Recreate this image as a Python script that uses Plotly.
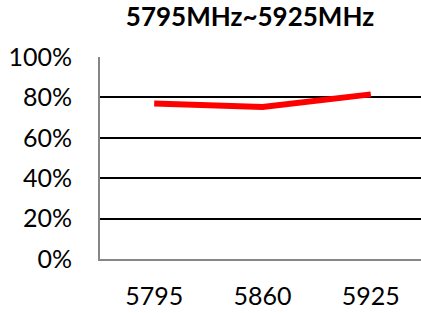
import plotly.graph_objects as go

categories = ["5795", "5860", "5925"]
values = [0.77, 0.752, 0.815]
title_text = "5795MHz~5925MHz"

W, H = 429, 313

fig = go.Figure()
fig.add_trace(go.Scatter(
    x=categories, y=values, mode="lines",
    line=dict(color="#FF0000", width=6),
    showlegend=False, hoverinfo="skip",
))

fig.update_layout(
    width=W, height=H, autosize=False,
    margin=dict(l=100, r=4, t=57, b=54, pad=0, autoexpand=False),
    paper_bgcolor="white", plot_bgcolor="white",
    title=dict(text="<b>" + title_text + "</b>", x=250 / W, xanchor="center",
               y=1 - 17 / H, yanchor="middle",
               font=dict(family="Lato", size=26, color="black")),
    font=dict(family="Lato", size=25, color="black"),
)
fig.update_xaxes(
    type="category", range=[-0.5, 2.5], automargin=False, domain=[0, 1],
    showline=True, linecolor="#868686", linewidth=2,
    showgrid=False, ticks="", ticklabelstandoff=14,
    tickfont=dict(family="Lato", size=25, color="black"),
)
fig.update_yaxes(
    range=[0, 1], dtick=0.2, tickformat=".0%", automargin=False,
    showline=True, linecolor="#868686", linewidth=2,
    showgrid=True, gridcolor="black", gridwidth=2,
    zeroline=False, ticks="", ticklabelstandoff=21,
    tickfont=dict(family="Lato", size=25, color="black"),
)

fig.write_html(
    "out.html",
    default_width=f"{W}px", default_height=f"{H}px",
    config={"responsive": False, "displayModeBar": False},
    post_script=(
        "document.documentElement.style.margin='0';"
        "document.documentElement.style.overflow='hidden';"
        "document.body.style.margin='0';document.body.style.overflow='hidden';"
    ),
)
